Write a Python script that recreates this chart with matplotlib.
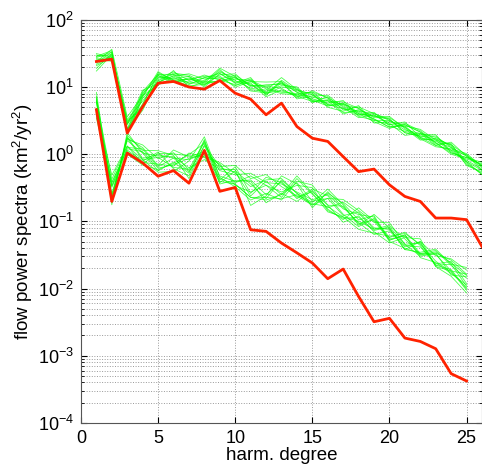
import numpy as np
import matplotlib.pyplot as plt
from matplotlib.ticker import LogLocator, NullFormatter

plt.rcParams['font.family'] = ['Liberation Sans', 'DejaVu Sans']
plt.rcParams['mathtext.fontset'] = 'custom'
plt.rcParams['mathtext.rm'] = 'Liberation Sans'
plt.rcParams['mathtext.it'] = 'Liberation Sans'

# harmonic degrees
deg_top = list(range(1, 27))
deg_low = list(range(1, 26))

# reference spectra (red)
red_top = [24, 26, 2.06, 5.1, 11.4, 12.1, 10.0, 9.3, 12.5, 8.1, 6.6, 3.86, 5.76,
           2.58, 1.73, 1.55, 0.92, 0.55, 0.6, 0.35, 0.235, 0.198, 0.112, 0.112,
           0.106, 0.042]
red_low = [4.6, 0.198, 1.04, 0.74, 0.47, 0.57, 0.37, 1.14, 0.28, 0.32, 0.075,
           0.071, 0.0475, 0.034, 0.024, 0.014, 0.0195, 0.0076, 0.0032, 0.0036,
           0.00183, 0.00163, 0.00127, 0.00054, 0.00042]

# ensemble centre (green)
green_top = [25, 29, 2.6, 6.5, 13.5, 14, 12.5, 12, 14.5, 12.5, 11, 9, 10.5, 8, 7,
             6, 5, 4.2, 3.5, 2.9, 2.4, 1.95, 1.55, 1.2, 0.85, 0.6]
green_low = [5.5, 0.28, 1.45, 0.95, 0.78, 0.8, 0.72, 1.2, 0.52, 0.45, 0.3, 0.3,
             0.3, 0.3, 0.23, 0.2, 0.14, 0.11, 0.088, 0.066, 0.05, 0.038, 0.028,
             0.021, 0.013]

# member deviations from the centre, in units of 0.02 decade
dev_top = [
    [2, 3, -3, 4, 3, 2, -2, 1, 3, 2, 0, -3, 2, 1, 0, 2, -1, 1, 3, 2, 1, -2, 0, 1, 2, 3],
    [-3, 0, 4, -6, -2, 3, 4, -1, -4, 1, 3, 2, -5, 0, 4, -2, 3, 0, -1, -3, 2, 4, 1, -2, -1, 0],
    [1, -4, -6, 2, 5, -3, 1, 4, 0, -5, 2, 6, 3, -4, 1, 5, 0, -4, 2, 0, -5, 1, 3, 2, -3, -4],
    [-6, 2, 2, 7, -4, 5, -5, 0, 6, 3, -4, -1, 0, 5, -3, 0, 4, 3, 0, 4, 1, -3, -4, 0, 4, 2],
    [4, -2, -2, -8, 1, -1, 3, -4, 2, -2, 5, -4, 4, 2, 3, -4, -3, 5, -4, 1, 3, 2, -2, 4, -5, -2],
    [-1, 5, 7, 3, -5, 0, -3, 3, -2, 4, -1, 3, -2, -3, 5, 3, 1, -2, 4, -2, -2, 0, 5, -3, 1, 5],
    [5, -1, -4, -3, 2, -4, 2, -3, 4, 0, -3, 0, 6, 3, -2, 1, -5, 2, 1, 5, 0, -4, 2, 3, 3, -1],
    [-8, 1, 1, 5, 0, 4, 0, 5, -3, -3, 1, -5, -3, -2, 2, -3, 2, -1, -3, -4, 4, 3, -1, -4, 0, 4],
    [0, -3, 3, -4, 4, -2, -4, -2, 1, 5, -2, 4, 1, 4, -4, 4, -2, 4, 3, 3, -3, -1, 4, 1, -4, -3],
    [3, 4, -5, 1, -3, 1, 5, 2, -1, -4, 4, -2, -4, -1, -1, -1, 5, -3, -2, -1, 5, -2, -3, 5, 2, 1],
    [1, -2, 2, -5, -1, 2, 3, -2, -3, 2, -1, 3, 2, -2, -3, 1, 2, 3, -2, 2, -1, 1, -3, -1, 3, 2],
    [-2, 3, -4, 3, 2, -3, -1, 3, 2, -1, 3, -3, -1, 3, 2, -2, -1, -2, 2, -1, 2, -3, 1, 3, -2, -1],
    [3, 1, 5, -1, -3, 1, -2, -1, 5, -2, 2, 1, -6, -1, 4, 3, -4, 1, -1, -3, 3, 2, -1, -3, 1, 3],
    [-4, -1, -2, 6, 3, -2, 1, 0, -4, 3, -5, -2, 3, 1, -2, -3, 3, -1, 1, 3, -3, -1, 2, -1, -2, -4],
]
dev_low = [
    [5, -5, 4, 6, -3, 8, 5, -2, 6, -4, 10, 3, -6, 8, 2, -5, 7, 4, -3, 6, 2, -4, 5, 3, 4],
    [-8, 7, -5, -4, 7, -6, -9, 6, -5, 8, -3, 9, 5, -7, 6, 4, -2, -6, 5, -3, 7, 3, -5, -2, -6],
    [2, -10, 8, 2, 4, 3, -3, -8, 3, 6, -12, -5, 10, 4, -8, 7, 3, -3, -7, 2, -4, 6, 2, 6, 8],
    [-3, 3, -8, -7, -6, -2, 7, 4, -8, -2, 6, -10, -3, -9, 5, -6, -6, 8, 3, -5, 5, -6, -3, -5, -3],
    [9, -2, 3, 8, 2, 6, -5, -5, 8, 3, 2, 7, 8, -3, -4, 9, 5, -5, 8, 4, -6, -2, 7, 2, 10],
    [-5, 12, -2, -3, -8, -8, 2, 9, -3, -7, -8, -3, -8, 6, 9, -3, -8, 2, -5, -7, 3, 8, -6, -7, -9],
    [6, -7, 6, 4, 8, 4, -11, 3, 5, 9, 8, 11, 2, -5, -6, 2, 9, 6, 2, 8, -2, -5, 4, 5, 5],
    [-10, 4, -6, -5, -2, -4, 8, -6, -6, -5, -6, -8, -4, 10, 3, -8, -4, -8, -6, -2, 6, 4, -2, -4, -5],
    [3, -4, 5, -2, 5, 2, -6, 2, 2, 2, 12, 5, 4, -2, -2, 5, 2, 3, 6, -6, -5, -3, 6, 1, 2],
    [-4, 6, -4, 3, -5, -3, 4, -4, -4, -5, -6, -6, -7, -4, -5, -4, -4, -2, -3, 4, -6, 6, -6, -3, -7],
    [2, 4, -3, 5, -4, 2, 3, -3, 4, 4, -5, 6, -4, 5, -3, 2, -3, 5, -2, 3, -3, 2, -4, 4, -2],
    [-3, -6, 4, -3, 3, -5, -4, 5, -2, -3, 7, -4, 6, -6, 4, -3, 4, -4, 4, -4, 4, -4, 3, -3, 5],
    [4, 9, -2, -6, 6, 5, 6, -6, 7, -6, -2, 3, -2, 3, 7, -7, -5, 1, -4, 5, -2, 5, -5, 2, -4],
    [-6, -3, 2, 2, -7, -1, -7, 7, -7, 5, 4, -7, 7, -3, -6, 6, 6, -1, 7, -5, 5, -3, 4, -6, 3],
]

fig = plt.figure(figsize=(4.82, 4.73), dpi=100)
ax = fig.add_axes([0.168, 0.106, 0.832, 0.852])

for d in dev_top:
    ax.plot(deg_top, np.array(green_top) * 10 ** (np.array(d) * 0.02),
            color='#00ff00', lw=0.6, alpha=0.7)
for d in dev_low:
    ax.plot(deg_low, np.array(green_low) * 10 ** (np.array(d) * 0.02),
            color='#00ff00', lw=0.6, alpha=0.7)

ax.plot(deg_top, red_top, color='#ff2200', lw=2)
ax.plot(deg_low, red_low, color='#ff2200', lw=2)

ax.set_yscale('log')
ax.set_xlim(0, 26)
ax.set_ylim(1e-4, 1e2)
ax.set_xticks([0, 5, 10, 15, 20, 25])
ax.yaxis.set_major_locator(LogLocator(base=10, numticks=10))
ax.yaxis.set_minor_locator(LogLocator(base=10, subs=np.arange(2, 10), numticks=20))
ax.yaxis.set_minor_formatter(NullFormatter())

ax.grid(True, which='major', axis='both', color='#999999', ls=':', lw=0.7)
ax.grid(True, which='minor', axis='y', color='#999999', ls=':', lw=0.7)
ax.tick_params(which='both', direction='in', top=True, right=True, labelsize=13, pad=5)
ax.tick_params(which='major', length=4)
ax.tick_params(which='minor', length=2)
for s in ax.spines.values():
    s.set_color('#555555')

ax.set_xlabel('harm. degree', fontsize=13.5, labelpad=0)
ax.set_ylabel('flow power spectra (km$^2$/yr$^2$)', fontsize=13.5, labelpad=2)

fig.savefig('out.png', dpi=100)
